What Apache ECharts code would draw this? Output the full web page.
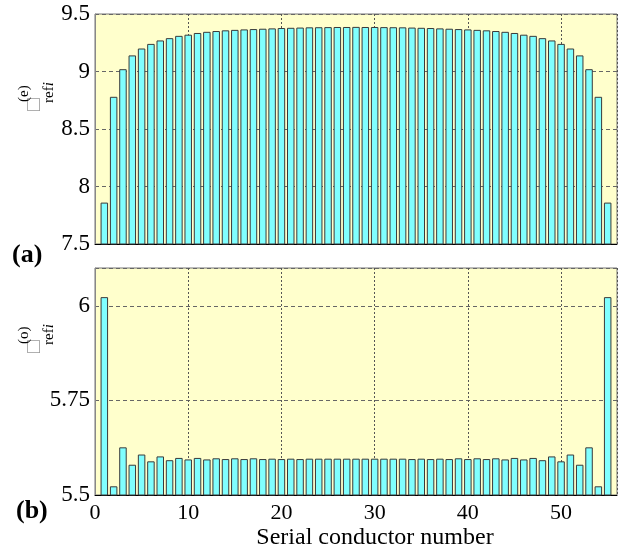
<!DOCTYPE html>
<html lang="en">
<head>
    <meta charset="UTF-8">
    <title>Document</title>
    <script src="https://cdn.jsdelivr.net/npm/echarts@6/dist/echarts.min.js"></script>
</head>
<body style="margin:0">
<div id="main" style="width: 627px;height:551px;"></div>
<script>

    // conductor index 1..55
    var conductors = [];
    for (var k = 1; k <= 55; k++) conductors.push(k);

    // (a) even mode (symmetric)
    var evenValues = [7.86, 8.78, 9.02, 9.14, 9.20, 9.24, 9.27, 9.29, 9.31, 9.32,
        9.335, 9.345, 9.352, 9.358, 9.362, 9.366, 9.369, 9.372, 9.375, 9.378,
        9.380, 9.382, 9.384, 9.385, 9.386, 9.387, 9.387, 9.388, 9.387, 9.387,
        9.386, 9.385, 9.384, 9.382, 9.380, 9.378, 9.375, 9.372, 9.369, 9.366,
        9.362, 9.358, 9.352, 9.345, 9.335, 9.32, 9.31, 9.29, 9.27, 9.24,
        9.20, 9.14, 9.02, 8.78, 7.86];

    // (b) odd mode
    var oddValues = [6.023, 5.523, 5.626, 5.580, 5.607, 5.589, 5.602, 5.592, 5.598, 5.594,
        5.598, 5.594, 5.597, 5.595, 5.597, 5.595, 5.597, 5.595, 5.596, 5.595,
        5.596, 5.595, 5.596, 5.596, 5.596, 5.596, 5.596, 5.596, 5.596, 5.596,
        5.596, 5.596, 5.596, 5.595, 5.596, 5.595, 5.596, 5.595, 5.597, 5.595,
        5.597, 5.595, 5.597, 5.594, 5.598, 5.594, 5.598, 5.592, 5.602, 5.589,
        5.607, 5.580, 5.626, 5.523, 6.023];

    var xTicks = [0, 10, 20, 30, 40, 50];
    var evenTicks = [7.5, 8, 8.5, 9, 9.5];
    var oddTicks = [5.5, 5.75, 6];

    var pairs = function (vals) {
        return conductors.map(function (c, i) { return [c, vals[i]]; });
    };

    var serif = 'Liberation Serif';
    var myChart = echarts.init(document.getElementById('main'));

    var xBase = {
        type: 'value', min: 0, max: 56, interval: 10,
        axisLine: {show: true, onZero: false, lineStyle: {color: '#000'}},
        axisTick: {show: false},
        splitLine: {show: true, lineStyle: {color: '#555', type: [2, 2], width: 1}},
        axisLabel: {show: false}
    };
    var yBase = {
        type: 'value',
        axisLine: {show: true, lineStyle: {color: '#888'}},
        axisTick: {show: false},
        splitLine: {show: true, lineStyle: {color: '#666', type: [4, 3], width: 1}},
        axisLabel: {color: '#000', fontFamily: serif, fontSize: 23, margin: 5}
    };
    var barStyle = {color: '#80ffff', borderColor: '#3a3a3a', borderWidth: 1};

    // rotated y axis name: box, subscript "refi", superscript mode tag
    var yName = function (tag, dy) {
        return [
            {type: 'text', x: 24, y: 111 + dy, rotation: Math.PI / 2, style: {text: '□', font: '21px Liberation Serif', fill: '#999'}},
            {type: 'text', x: 42, y: 103 + dy, rotation: Math.PI / 2, style: {
                text: '{r|ref}{i|i}', rich: {r: {font: '15px Liberation Serif', fill: '#000'}, i: {font: 'italic 15px Liberation Serif', fill: '#000'}}}},
            {type: 'text', x: 17, y: 102 + dy, rotation: Math.PI / 2, style: {text: tag, font: '15px Liberation Serif', fill: '#000'}}
        ];
    };

    var option = {
        textStyle: {fontFamily: serif},
        animation: false,
        grid: [
            {left: 95, top: 14, width: 522, height: 230, show: true, backgroundColor: '#ffffcc', borderColor: '#777'},
            {left: 95, top: 268, width: 522, height: 230, show: true, backgroundColor: '#ffffcc', borderColor: '#777'}
        ],
        xAxis: [
            Object.assign({}, xBase, {gridIndex: 0}),
            Object.assign({}, xBase, {
                gridIndex: 1,
                axisLabel: {show: true, color: '#000', fontFamily: serif, fontSize: 22, margin: 7,
                    formatter: function (v) { return xTicks.indexOf(v) >= 0 ? v : ''; }},
                name: 'Serial conductor number', nameLocation: 'middle', nameGap: 31,
                nameTextStyle: {color: '#000', fontFamily: serif, fontSize: 24, padding: [0, 0, 0, 38]}
            })
        ],
        yAxis: [
            Object.assign({}, yBase, {gridIndex: 0, min: evenTicks[0], max: evenTicks[evenTicks.length - 1], interval: 0.5}),
            Object.assign({}, yBase, {gridIndex: 1, min: oddTicks[0], max: 6.1, interval: 0.25,
                axisLabel: Object.assign({}, yBase.axisLabel, {showMaxLabel: false})})
        ],
        graphic: [
            {type: 'text', left: 12, top: 242, style: {text: '(a)', font: 'bold 26px Liberation Serif', fill: '#000'}},
            {type: 'text', left: 16, top: 498, style: {text: '(b)', font: 'bold 26px Liberation Serif', fill: '#000'}}
        ].concat(yName('(e)', 0), yName('(o)', 242)),
        series: [
            {type: 'bar', xAxisIndex: 0, yAxisIndex: 0, data: pairs(evenValues), barWidth: 7.5, itemStyle: barStyle},
            {type: 'bar', xAxisIndex: 1, yAxisIndex: 1, data: pairs(oddValues), barWidth: 7.5, itemStyle: barStyle}
        ]
    };

    myChart.setOption(option);

</script>
</body>
</html>
